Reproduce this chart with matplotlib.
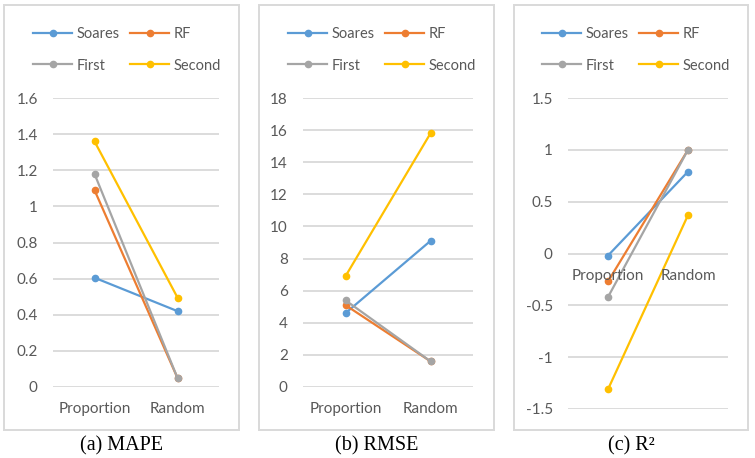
import matplotlib
matplotlib.use("Agg")
import matplotlib.pyplot as plt
from matplotlib.patches import Rectangle

W, H = 755, 458

categories = ["Proportion", "Random"]
series_names = ["Soares", "RF", "First", "Second"]
colors = ["#5B9BD5", "#ED7D31", "#A5A5A5", "#FFC000"]

mape = {
    "Soares": [0.605, 0.42],
    "RF": [1.09, 0.05],
    "First": [1.18, 0.05],
    "Second": [1.36, 0.495],
}
rmse = {
    "Soares": [4.6, 9.1],
    "RF": [5.1, 1.6],
    "First": [5.4, 1.6],
    "Second": [6.9, 15.8],
}
r2 = {
    "Soares": [-0.02, 0.79],
    "RF": [-0.27, 1.0],
    "First": [-0.42, 1.0],
    "Second": [-1.31, 0.37],
}

mape_ticks = [0, 0.2, 0.4, 0.6, 0.8, 1, 1.2, 1.4, 1.6]
rmse_ticks = [0, 2, 4, 6, 8, 10, 12, 14, 16, 18]
r2_ticks = [-1.5, -1, -0.5, 0, 0.5, 1, 1.5]
captions = ["(a) MAPE", "(b) RMSE", "(c) R²"]

TXT = "#595959"
GRID = "#D9D9D9"
FONT = "Lato"
FS = 11

plt.rcParams['font.family'] = [FONT, 'DejaVu Sans']


def px_rect(left, right, top, bottom):
    return [left / W, 1 - bottom / H, (right - left) / W, (bottom - top) / H]


fig = plt.figure(figsize=(W / 100, H / 100), dpi=100)

panels = [
    # data, ticks, axes box (l, r, t, b), frame box (l, r, t, b), legend anchor
    (mape, mape_ticks, (53, 219, 98, 387), (4, 239, 5, 430), (33, 27)),
    (rmse, rmse_ticks, (303, 473, 98, 387), (259, 494, 5, 430), (288, 27)),
    (r2, r2_ticks, (568, 728, 98, 409), (514, 748, 5, 430), (542, 27)),
]

for k, (data, ticks, ab, fb, leg) in enumerate(panels):
    # outer grey frame like the Excel chart area
    fig.add_artist(Rectangle((fb[0] / W, 1 - fb[3] / H),
                             (fb[1] - fb[0]) / W, (fb[3] - fb[2]) / H,
                             transform=fig.transFigure, fill=False,
                             edgecolor=GRID, lw=1.4))

    ax = fig.add_axes(px_rect(*ab))
    lines = {}
    for name, c in zip(series_names, colors):
        lines[name], = ax.plot(range(len(categories)), data[name], color=c, lw=1.6,
                               marker="o", markersize=4.5, label=name, zorder=3)

    ax.set_xlim(-0.5, len(categories) - 0.5)
    ax.set_ylim(ticks[0], ticks[-1])
    ax.set_yticks(ticks)
    ax.set_yticklabels([f"{t:g}" for t in ticks])
    ax.set_xticks([])
    ax.tick_params(axis="y", length=0, pad=11, labelsize=FS, labelcolor=TXT)
    for s in ax.spines.values():
        s.set_visible(False)
    ax.yaxis.grid(True, color=GRID, lw=1.3)
    ax.set_axisbelow(True)

    # category labels sit under the zero line
    for i, cat in enumerate(categories):
        ax.annotate(cat, (i, 0), xytext=(0, -16), textcoords="offset points",
                    ha="center", va="center", fontsize=FS, color=TXT,
                    annotation_clip=False)

    # legend fills column-wise, so order handles to read row by row
    order = ["Soares", "First", "RF", "Second"]
    ax.legend([lines[n] for n in order], order,
              loc="upper left", bbox_to_anchor=(leg[0] / W, 1 - leg[1] / H),
              bbox_transform=fig.transFigure, ncol=2, frameon=False,
              fontsize=10.5, labelcolor=TXT, handlelength=2.7, handletextpad=0.3,
              columnspacing=0.7, labelspacing=1.2, borderpad=0, borderaxespad=0)

    fig.text((fb[0] + fb[1]) / 2 / W, 1 - 446 / H, captions[k], ha="center",
             va="center", fontsize=14.5, family="Liberation Serif", color="black")

fig.savefig("out.png", dpi=100)
